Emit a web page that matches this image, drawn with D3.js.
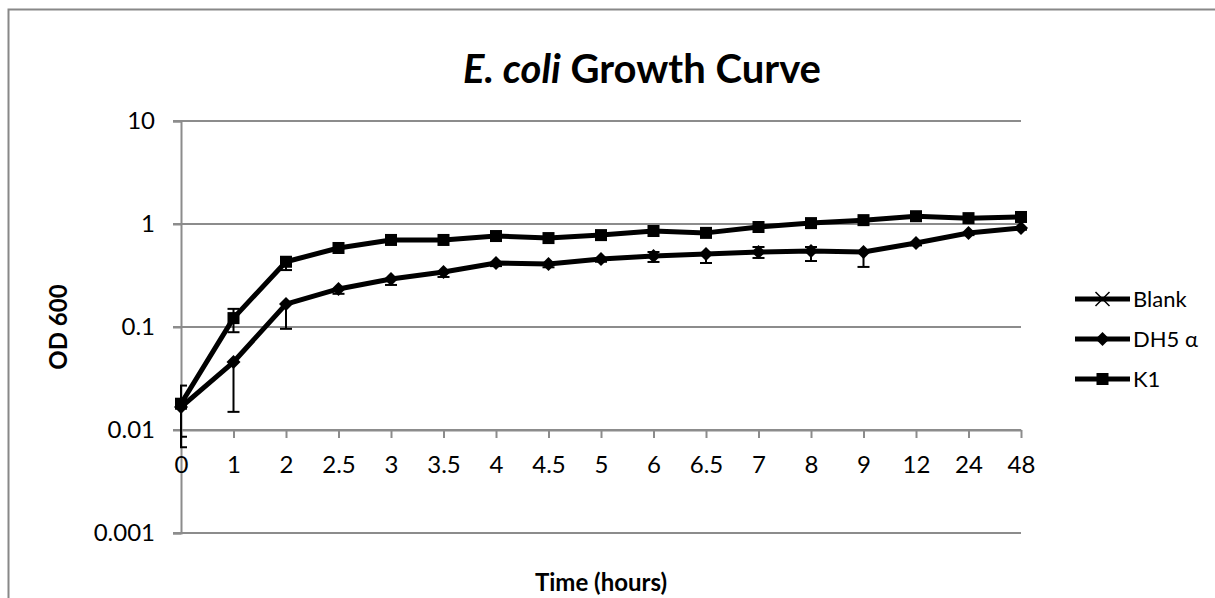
<!DOCTYPE html>
<html>
<head>
<meta charset="utf-8">
<script src="https://cdn.jsdelivr.net/npm/d3@7"></script>
<style>
  body { margin: 0; background: #fff; }
  svg { display: block; font-family: Lato, "Open Sans", sans-serif; }
</style>
</head>
<body>
<svg width="1215" height="598"></svg>
<script>
const width = 1215;
const height = 598;

// time points (hours), plotted as categories
const times = ["0", "1", "2", "2.5", "3", "3.5", "4", "4.5", "5", "6", "6.5", "7", "8", "9", "12", "24", "48"];

// OD600 readings
const blankOD = [0, 0, 0, 0, 0, 0, 0, 0, 0, 0, 0, 0, 0, 0, 0, 0, 0];
const dh5OD = [0.0167, 0.0457, 0.167, 0.234, 0.292, 0.342, 0.418, 0.409, 0.457, 0.489, 0.51, 0.535, 0.547, 0.535, 0.654, 0.818, 0.915];
const k1OD = [0.018, 0.122, 0.43, 0.585, 0.70, 0.70, 0.764, 0.73, 0.78, 0.855, 0.82, 0.935, 1.02, 1.09, 1.19, 1.14, 1.17];

// error bar ends (null = not visible)
const dh5Lo = [0.0068, 0.015, 0.096, 0.21, 0.256, 0.306, 0.39, 0.38, 0.43, 0.428, 0.418, 0.468, 0.437, 0.383, 0.62, 0.78, 0.88];
const dh5Hi = [null, null, null, null, null, null, null, null, null, 0.535, null, 0.598, 0.598, null, null, null, null];
const k1Lo = [0.0086, 0.089, 0.357, null, null, null, null, null, null, null, null, null, null, null, null, null, null];
const k1Hi = [0.027, 0.15, null, null, null, null, null, null, null, null, null, null, null, null, null, null, null];

const yTicks = [0.001, 0.01, 0.1, 1, 10];

const plot = { left: 181, right: 1021, top: 121, bottom: 533 };

const svg = d3.select("svg");

// chart frame
svg.append("rect")
    .attr("x", 8.5).attr("y", 9.5)
    .attr("width", 1300).attr("height", 700)
    .attr("fill", "none")
    .attr("stroke", "#888")
    .attr("stroke-width", 2);

const x = d3.scalePoint().domain(times).range([plot.left, plot.right]);
const y = d3.scaleLog().domain([0.001, 10]).range([plot.bottom, plot.top]);

// gridlines
svg.append("g")
    .selectAll("line")
    .data(yTicks).enter()
    .append("line")
    .attr("x1", plot.left - 8)
    .attr("x2", plot.right)
    .attr("y1", d => y(d))
    .attr("y2", d => y(d))
    .attr("stroke", "#8c8c8c")
    .attr("stroke-width", 2);

// y axis
const yAxis = svg.append("g")
    .attr("transform", "translate(" + plot.left + ",0)")
    .call(d3.axisLeft(y).tickValues(yTicks).tickFormat(d => String(d)).tickSize(8).tickPadding(18));
yAxis.select(".domain").attr("stroke", "#8c8c8c").attr("stroke-width", 2);
yAxis.selectAll(".tick line").attr("stroke", "#8c8c8c").attr("stroke-width", 2);
yAxis.selectAll("text").attr("font-size", 24).attr("fill", "#000").attr("font-family", "Lato, sans-serif");

// x axis crossing at 0.01
const xAxis = svg.append("g")
    .attr("transform", "translate(0," + y(0.01) + ")")
    .call(d3.axisBottom(x).tickSize(8).tickPadding(18).tickSizeOuter(0));
xAxis.select(".domain").attr("stroke", "#8c8c8c").attr("stroke-width", 2);
xAxis.selectAll(".tick line").attr("stroke", "#8c8c8c").attr("stroke-width", 2);
xAxis.selectAll("text").attr("font-size", 24).attr("fill", "#000").attr("font-family", "Lato, sans-serif");

// error bars
svg.append("clipPath").attr("id", "plotclip")
    .append("rect")
    .attr("x", plot.left - 1).attr("y", 0)
    .attr("width", plot.right - plot.left + 20).attr("height", height);

const bars = [];
times.forEach((t, i) => {
    bars.push({ t: t, v: dh5OD[i], lo: dh5Lo[i], hi: dh5Hi[i] });
    bars.push({ t: t, v: k1OD[i], lo: k1Lo[i], hi: k1Hi[i] });
});

const errG = svg.append("g").attr("clip-path", "url(#plotclip)");
bars.forEach(b => {
    const ends = [b.lo, b.hi].filter(e => e !== null);
    ends.forEach(e => {
        errG.append("line")
            .attr("x1", x(b.t)).attr("x2", x(b.t))
            .attr("y1", y(b.v)).attr("y2", y(e))
            .attr("stroke", "#000").attr("stroke-width", 2);
        errG.append("line")
            .attr("x1", x(b.t) - 6).attr("x2", x(b.t) + 6)
            .attr("y1", y(e)).attr("y2", y(e))
            .attr("stroke", "#000").attr("stroke-width", 2);
    });
});

// series
const series = [
    { name: "Blank", values: blankOD, symbol: "x" },
    { name: "DH5 \u03b1", values: dh5OD, symbol: "diamond" },
    { name: "K1", values: k1OD, symbol: "square" }
];

const line = d3.line()
    .defined(d => d.v > 0)
    .x(d => x(d.t))
    .y(d => y(d.v));

function drawMarker(g, symbol, cx, cy) {
    if (symbol === "square") {
        g.append("rect")
            .attr("x", cx - 6).attr("y", cy - 6)
            .attr("width", 12).attr("height", 12)
            .attr("fill", "#000");
    } else if (symbol === "diamond") {
        g.append("path")
            .attr("d", "M" + cx + "," + (cy - 7) + "L" + (cx + 7) + "," + cy + "L" + cx + "," + (cy + 7) + "L" + (cx - 7) + "," + cy + "Z")
            .attr("fill", "#000");
    } else {
        g.append("path")
            .attr("d", "M" + (cx - 7) + "," + (cy - 7) + "L" + (cx + 7) + "," + (cy + 7) + "M" + (cx + 7) + "," + (cy - 7) + "L" + (cx - 7) + "," + (cy + 7))
            .attr("stroke", "#000").attr("stroke-width", 1.5).attr("fill", "none");
    }
}

series.forEach(s => {
    const pts = times.map((t, i) => ({ t: t, v: s.values[i] }));
    const g = svg.append("g");
    g.append("path")
        .datum(pts)
        .attr("d", line)
        .attr("fill", "none")
        .attr("stroke", "#000")
        .attr("stroke-width", 5)
        .attr("stroke-linejoin", "round");
    pts.filter(p => p.v > 0).forEach(p => drawMarker(g, s.symbol, x(p.t), y(p.v)));
});

// legend
const legend = svg.append("g").attr("transform", "translate(1075,299)");
series.forEach((s, i) => {
    const g = legend.append("g").attr("transform", "translate(0," + i * 40 + ")");
    g.append("line")
        .attr("x1", 0).attr("x2", 55)
        .attr("stroke", "#000").attr("stroke-width", 5);
    drawMarker(g, s.symbol, 27.5, 0);
    g.append("text")
        .attr("x", 58).attr("y", 0)
        .attr("dy", "0.35em")
        .attr("font-size", 22)
        .text(s.name);
});

// title
const title = svg.append("text")
    .attr("x", 642).attr("y", 83)
    .attr("text-anchor", "middle")
    .attr("font-size", 40)
    .attr("font-weight", "bold");
title.append("tspan").attr("font-style", "italic").text("E. coli");
title.append("tspan").text(" Growth Curve");

// axis titles
svg.append("text")
    .attr("transform", "translate(67,327) rotate(-90)")
    .attr("text-anchor", "middle")
    .attr("font-size", 24)
    .attr("font-weight", "bold")
    .text("OD 600");

svg.append("text")
    .attr("x", 601).attr("y", 591)
    .attr("text-anchor", "middle")
    .attr("font-size", 24)
    .attr("font-weight", "bold")
    .text("Time (hours)");
</script>
</body>
</html>
